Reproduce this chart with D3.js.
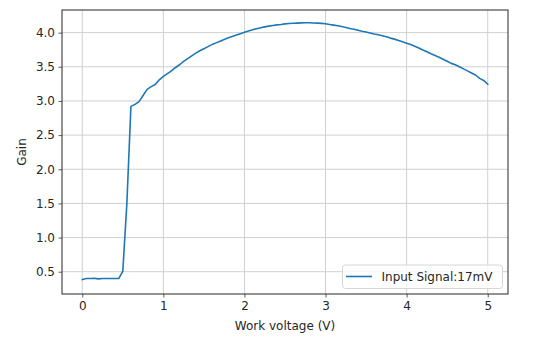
<!DOCTYPE html>
<html>
<head>
<meta charset="utf-8">
<script src="https://cdn.jsdelivr.net/npm/d3@7"></script>
<style>
html,body{margin:0;padding:0;background:#fff;}
text{font-family:"DejaVu Sans",sans-serif;fill:#262626;}
</style>
</head>
<body>
<svg id="chart" width="545" height="362"></svg>
<script>
const voltage = [0.00,0.05,0.10,0.15,0.20,0.25,0.30,0.35,0.40,0.45,
  0.50,0.55,0.60,0.65,0.70,0.75,0.80,0.85,0.90,0.95,
  1.00,1.05,1.10,1.15,1.20,1.25,1.30,1.35,1.40,1.45,
  1.50,1.55,1.60,1.65,1.70,1.75,1.80,1.85,1.90,1.95,
  2.00,2.05,2.10,2.15,2.20,2.25,2.30,2.35,2.40,2.45,
  2.50,2.55,2.60,2.65,2.70,2.75,2.80,2.85,2.90,2.95,
  3.00,3.05,3.10,3.15,3.20,3.25,3.30,3.35,3.40,3.45,
  3.50,3.55,3.60,3.65,3.70,3.75,3.80,3.85,3.90,3.95,
  4.00,4.05,4.10,4.15,4.20,4.25,4.30,4.35,4.40,4.45,
  4.50,4.55,4.60,4.65,4.70,4.75,4.80,4.85,4.90,4.95,5.00];
const gain = [0.385,0.400,0.400,0.405,0.395,0.400,0.400,0.400,0.400,0.400,
  0.51,1.50,2.92,2.95,2.99,3.08,3.17,3.21,3.24,3.31,
  3.36,3.40,3.44,3.49,3.53,3.58,3.62,3.66,3.70,3.735,
  3.765,3.795,3.825,3.85,3.875,3.90,3.925,3.945,3.965,3.985,
  4.005,4.025,4.042,4.058,4.072,4.084,4.095,4.105,4.114,4.12,
  4.128,4.133,4.138,4.14,4.143,4.145,4.145,4.142,4.14,4.135,
  4.13,4.12,4.11,4.10,4.09,4.075,4.06,4.05,4.035,4.02,
  4.01,3.995,3.98,3.97,3.955,3.94,3.92,3.905,3.885,3.865,
  3.845,3.825,3.80,3.775,3.745,3.72,3.69,3.665,3.64,3.61,
  3.58,3.55,3.53,3.50,3.47,3.44,3.41,3.38,3.33,3.30,3.245];
const xTicks = [0,1,2,3,4,5];
const yTicks = [0.5,1.0,1.5,2.0,2.5,3.0,3.5,4.0];
const seriesName = "Input Signal:17mV";
const xLabel = "Work voltage (V)";
const yLabel = "Gain";

const L = 62, T = 10, R = 508, B = 294;
const FS = 12;
const svg = d3.select("#chart");
const x = d3.scaleLinear().domain([-0.25, 5.25]).range([L, R]);
const y = d3.scaleLinear().domain([0.1735, 4.3315]).range([B, T]);

// grid
const g = svg.append("g");
g.selectAll(".vg").data(xTicks).enter().append("line")
  .attr("x1", d => x(d)).attr("x2", d => x(d)).attr("y1", T).attr("y2", B)
  .attr("stroke", "#d0d0d0").attr("stroke-width", 1);
g.selectAll(".hg").data(yTicks).enter().append("line")
  .attr("y1", d => y(d)).attr("y2", d => y(d)).attr("x1", L).attr("x2", R)
  .attr("stroke", "#d0d0d0").attr("stroke-width", 1);

// line
const line = d3.line().x((d,i) => x(voltage[i])).y(d => y(d));
svg.append("path").datum(gain).attr("d", line)
  .attr("fill", "none").attr("stroke", "#1f77b4").attr("stroke-width", 1.6)
  .attr("stroke-linejoin", "round").attr("stroke-linecap", "square");

// axes
const xAxis = d3.axisBottom(x).tickValues(xTicks).tickFormat(d3.format("d")).tickSizeOuter(0).tickSize(3.5).tickPadding(3.5);
const yAxis = d3.axisLeft(y).tickValues(yTicks).tickFormat(d3.format(".1f")).tickSizeOuter(0).tickSize(3.5).tickPadding(3.5);
const gx = svg.append("g").attr("transform", `translate(0,${B})`).call(xAxis);
const gy = svg.append("g").attr("transform", `translate(${L},0)`).call(yAxis);
[gx, gy].forEach(a => {
  a.select(".domain").remove();
  a.selectAll(".tick line").attr("stroke", "#333").attr("stroke-width", 0.8);
  a.selectAll(".tick text").attr("font-size", FS).attr("fill", "#262626").style("font-family", "DejaVu Sans");
});

// frame
svg.append("rect").attr("x", L).attr("y", T).attr("width", R - L).attr("height", B - T)
  .attr("fill", "none").attr("stroke", "#262626").attr("stroke-width", 1);

// labels
svg.append("text").attr("x", (L + R) / 2).attr("y", 330).attr("text-anchor", "middle")
  .attr("font-size", FS).text(xLabel);
svg.append("text").attr("transform", `translate(26,${(T + B) / 2}) rotate(-90)`)
  .attr("text-anchor", "middle").attr("font-size", FS).text(yLabel);

// legend
const lg = svg.append("g");
lg.append("rect").attr("x", 342.5).attr("y", 265).attr("width", 160).attr("height", 23.5)
  .attr("rx", 3).attr("fill", "#fff").attr("fill-opacity", 0.8).attr("stroke", "#d6d6d6").attr("stroke-width", 1);
lg.append("line").attr("x1", 346).attr("x2", 372).attr("y1", 276.5).attr("y2", 276.5)
  .attr("stroke", "#1f77b4").attr("stroke-width", 1.6);
lg.append("text").attr("x", 381.5).attr("y", 281).attr("font-size", FS).text(seriesName);
</script>
</body>
</html>
